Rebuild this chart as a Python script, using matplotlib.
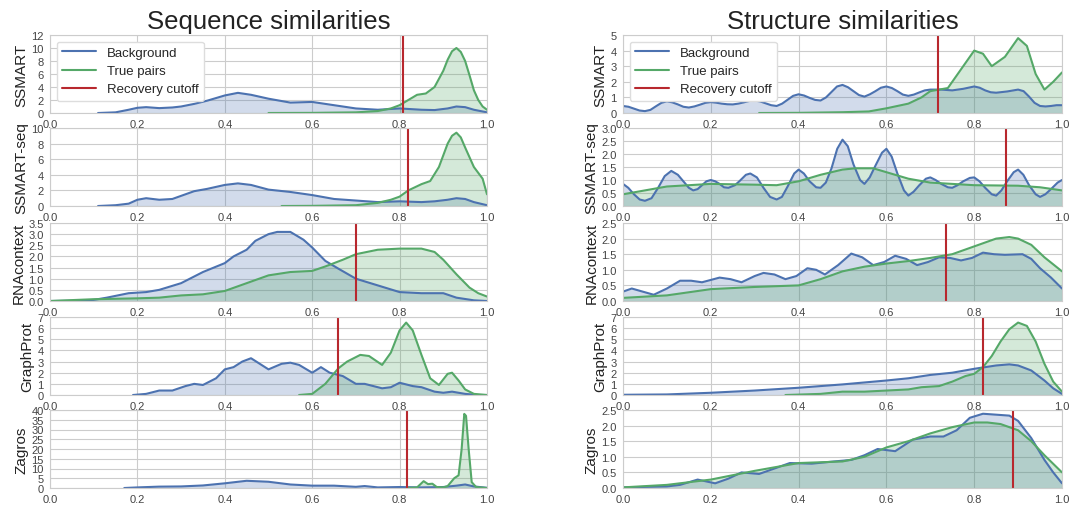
import numpy as np
import matplotlib
matplotlib.use("Agg")
from matplotlib import pyplot as plt
import seaborn as sns

sns.set_style("whitegrid")
plt.rcParams['font.family'] = ['Liberation Sans', 'DejaVu Sans']

BLUE = '#4C72B0'
GREEN = '#55A868'
RED = '#B8282E'

methods = ['SSMART', 'SSMART-seq', 'RNAcontext', 'GraphProt', 'Zagros']

# ---- sequence similarities (left column) ----
seq_bg_x = [
    [0.11, 0.15, 0.18, 0.2, 0.22, 0.25, 0.28, 0.3, 0.33, 0.36, 0.4, 0.43, 0.46, 0.5, 0.55, 0.6, 0.63, 0.67, 0.7, 0.75, 0.8, 0.85, 0.88, 0.91, 0.93, 0.95, 0.97, 1.0],
    [0.11, 0.15, 0.18, 0.2, 0.22, 0.25, 0.28, 0.3, 0.33, 0.36, 0.4, 0.43, 0.46, 0.5, 0.55, 0.6, 0.65, 0.7, 0.75, 0.8, 0.85, 0.88, 0.91, 0.93, 0.95, 0.97, 1.0],
    [0.0, 0.05, 0.1, 0.13, 0.18, 0.22, 0.25, 0.3, 0.35, 0.4, 0.42, 0.45, 0.47, 0.5, 0.52, 0.55, 0.58, 0.6, 0.63, 0.66, 0.7, 0.75, 0.8, 0.85, 0.9, 0.93, 0.97, 1.0],
    [0.19, 0.22, 0.25, 0.28, 0.31, 0.33, 0.35, 0.38, 0.4, 0.42, 0.44, 0.46, 0.48, 0.5, 0.53, 0.55, 0.57, 0.6, 0.62, 0.64, 0.67, 0.7, 0.72, 0.74, 0.76, 0.78, 0.8, 0.83, 0.85, 0.88, 0.9, 0.92, 0.95, 0.98, 1.0],
    [0.17, 0.2, 0.25, 0.3, 0.35, 0.4, 0.45, 0.5, 0.55, 0.6, 0.65, 0.7, 0.72, 0.75, 0.8, 0.85, 0.9, 0.93, 0.95, 0.97, 1.0],
]
seq_bg_y = [
    [0.0, 0.1, 0.5, 0.8, 0.9, 0.75, 0.85, 1.0, 1.4, 1.9, 2.7, 3.1, 2.8, 2.2, 1.6, 1.7, 1.4, 1.0, 0.7, 0.5, 0.7, 0.5, 0.45, 0.7, 1.0, 0.9, 0.5, 0.1],
    [0.0, 0.1, 0.3, 0.8, 1.0, 0.8, 0.9, 1.3, 1.9, 2.2, 2.7, 2.9, 2.7, 2.1, 1.8, 1.4, 0.9, 0.7, 0.5, 0.6, 0.5, 0.6, 0.8, 1.0, 0.9, 0.5, 0.1],
    [0.0, 0.01, 0.05, 0.15, 0.35, 0.4, 0.5, 0.8, 1.3, 1.7, 2.0, 2.3, 2.7, 3.0, 3.1, 3.1, 2.75, 2.4, 1.8, 1.45, 1.0, 0.7, 0.4, 0.35, 0.35, 0.15, 0.03, 0.0],
    [0.0, 0.1, 0.4, 0.4, 0.8, 1.0, 0.9, 1.5, 2.3, 2.5, 3.0, 3.3, 2.8, 2.3, 2.8, 2.9, 2.7, 2.0, 2.5, 2.0, 1.7, 1.0, 1.0, 0.8, 0.6, 0.7, 1.1, 0.8, 0.7, 0.3, 0.2, 0.3, 0.1, 0.0, 0.0],
    [0.0, 0.3, 0.7, 0.8, 1.3, 2.4, 3.7, 3.2, 1.8, 1.2, 1.2, 0.6, 1.0, 0.3, 0.5, 0.3, 0.5, 1.2, 1.8, 0.8, 0.1],
]
seq_tp_x = [
    [0.5, 0.6, 0.7, 0.75, 0.78, 0.8, 0.82, 0.84, 0.86, 0.88, 0.9, 0.91, 0.92, 0.93, 0.94, 0.95, 0.96, 0.97, 0.98, 0.99, 1.0],
    [0.53, 0.6, 0.7, 0.75, 0.78, 0.8, 0.82, 0.85, 0.87, 0.89, 0.91, 0.92, 0.93, 0.94, 0.95, 0.97, 0.99, 1.0],
    [0.0, 0.1, 0.2, 0.25, 0.3, 0.35, 0.4, 0.45, 0.5, 0.55, 0.6, 0.63, 0.67, 0.7, 0.75, 0.8, 0.85, 0.88, 0.9, 0.93, 0.96, 0.98, 1.0],
    [0.57, 0.6, 0.63, 0.66, 0.68, 0.71, 0.73, 0.76, 0.78, 0.8, 0.815, 0.83, 0.85, 0.87, 0.89, 0.91, 0.92, 0.935, 0.95, 0.97, 1.0],
    [0.82, 0.84, 0.855, 0.865, 0.875, 0.885, 0.9, 0.91, 0.925, 0.935, 0.942, 0.948, 0.952, 0.958, 0.965, 0.975, 1.0],
]
seq_tp_y = [
    [0.0, 0.02, 0.1, 0.3, 0.7, 1.2, 2.0, 2.8, 3.0, 4.0, 6.5, 8.2, 9.5, 10.0, 9.4, 8.0, 5.8, 3.5, 2.0, 1.0, 0.5],
    [0.0, 0.02, 0.1, 0.4, 0.8, 1.2, 2.0, 2.8, 3.2, 5.0, 8.0, 9.0, 9.4, 8.8, 7.5, 5.0, 3.5, 1.5],
    [0.0, 0.08, 0.12, 0.15, 0.25, 0.3, 0.45, 0.8, 1.15, 1.3, 1.35, 1.55, 1.85, 2.1, 2.3, 2.35, 2.35, 2.2, 1.85, 1.2, 0.6, 0.35, 0.2],
    [0.0, 0.1, 1.0, 2.4, 3.0, 3.6, 3.5, 2.7, 3.8, 5.8, 6.5, 5.8, 3.6, 1.5, 0.9, 1.9, 2.0, 1.3, 0.5, 0.1, 0.0],
    [0.0, 0.3, 3.5, 2.0, 2.2, 0.5, 0.3, 1.0, 5.0, 6.5, 20.0, 38.0, 37.0, 20.0, 3.0, 0.5, 0.0],
]
seq_cutoff = [0.808, 0.82, 0.70, 0.659, 0.817]
seq_ylim = [12, 10, 3.5, 7, 40]
seq_ystep = [2, 2, 0.5, 1, 5]

# ---- structure similarities (right column) ----
str_bg_x = [
    [0.0, 0.0125, 0.025, 0.0375, 0.05, 0.0625, 0.075, 0.0875, 0.1, 0.1125, 0.125, 0.1375, 0.15, 0.1625, 0.175, 0.1875, 0.2, 0.2125, 0.225, 0.2375, 0.25, 0.2625, 0.275, 0.2875, 0.3, 0.3125, 0.325, 0.3375, 0.35, 0.3625, 0.375, 0.3875, 0.4, 0.4125, 0.425, 0.4375, 0.45, 0.4625, 0.475, 0.4875, 0.5, 0.5125, 0.525, 0.5375, 0.55, 0.5625, 0.575, 0.5875, 0.6, 0.6125, 0.625, 0.6375, 0.65, 0.6625, 0.675, 0.6875, 0.7, 0.725, 0.75, 0.775, 0.8, 0.8125, 0.825, 0.8375, 0.85, 0.875, 0.9, 0.9125, 0.925, 0.9375, 0.95, 0.9625, 0.975, 0.9875, 1.0],
    [0.0, 0.012, 0.025, 0.038, 0.05, 0.065, 0.08, 0.095, 0.11, 0.125, 0.135, 0.15, 0.16, 0.17, 0.18, 0.19, 0.2, 0.21, 0.22, 0.23, 0.24, 0.255, 0.265, 0.28, 0.29, 0.305, 0.32, 0.335, 0.35, 0.362, 0.375, 0.39, 0.4, 0.412, 0.425, 0.44, 0.45, 0.462, 0.475, 0.488, 0.5, 0.512, 0.525, 0.54, 0.55, 0.562, 0.575, 0.59, 0.6, 0.612, 0.625, 0.64, 0.65, 0.662, 0.675, 0.69, 0.7, 0.712, 0.725, 0.74, 0.75, 0.762, 0.775, 0.79, 0.8, 0.812, 0.825, 0.84, 0.85, 0.862, 0.875, 0.89, 0.9, 0.912, 0.925, 0.94, 0.95, 0.962, 0.975, 0.99, 1.0],
    [0.0, 0.02, 0.045, 0.07, 0.1, 0.13, 0.155, 0.18, 0.22, 0.245, 0.27, 0.3, 0.32, 0.345, 0.37, 0.395, 0.42, 0.44, 0.46, 0.49, 0.52, 0.545, 0.57, 0.595, 0.62, 0.645, 0.67, 0.695, 0.72, 0.745, 0.77, 0.795, 0.82, 0.845, 0.87, 0.91, 0.93, 0.95, 0.975, 1.0],
    [0.0, 0.1, 0.2, 0.3, 0.4, 0.5, 0.6, 0.65, 0.7, 0.75, 0.8, 0.85, 0.88, 0.9, 0.93, 0.96, 0.98, 1.0],
    [0.0, 0.1, 0.13, 0.17, 0.21, 0.24, 0.27, 0.31, 0.35, 0.38, 0.43, 0.48, 0.52, 0.55, 0.58, 0.62, 0.66, 0.7, 0.73, 0.76, 0.79, 0.82, 0.85, 0.88, 0.9, 0.93, 0.96, 0.98, 1.0],
]
str_bg_y = [
    [0.45, 0.4, 0.28, 0.16, 0.12, 0.2, 0.43, 0.65, 0.75, 0.68, 0.55, 0.4, 0.35, 0.42, 0.53, 0.65, 0.7, 0.66, 0.6, 0.56, 0.55, 0.6, 0.68, 0.77, 0.8, 0.74, 0.62, 0.5, 0.45, 0.6, 0.85, 1.1, 1.2, 1.12, 0.97, 0.84, 0.8, 1.0, 1.35, 1.7, 1.8, 1.65, 1.4, 1.15, 1.05, 1.2, 1.4, 1.62, 1.7, 1.6, 1.4, 1.18, 1.1, 1.18, 1.32, 1.45, 1.5, 1.5, 1.45, 1.55, 1.7, 1.62, 1.45, 1.33, 1.3, 1.38, 1.5, 1.4, 1.05, 0.65, 0.45, 0.42, 0.45, 0.5, 0.5],
    [0.85, 0.7, 0.45, 0.25, 0.2, 0.3, 0.7, 1.15, 1.35, 1.2, 1.0, 0.7, 0.6, 0.65, 0.8, 0.95, 1.0, 0.95, 0.85, 0.72, 0.7, 0.8, 0.95, 1.2, 1.25, 1.1, 0.7, 0.35, 0.25, 0.35, 0.75, 1.25, 1.4, 1.25, 0.95, 0.72, 0.7, 0.9, 1.45, 2.2, 2.55, 2.3, 1.6, 1.0, 0.85, 1.1, 1.55, 2.05, 2.2, 1.9, 1.25, 0.6, 0.4, 0.55, 0.8, 1.05, 1.1, 1.0, 0.85, 0.72, 0.7, 0.8, 0.95, 1.08, 1.1, 0.95, 0.7, 0.45, 0.4, 0.6, 0.95, 1.3, 1.4, 1.2, 0.8, 0.45, 0.35, 0.45, 0.65, 0.9, 1.0],
    [0.3, 0.4, 0.3, 0.2, 0.4, 0.65, 0.65, 0.6, 0.75, 0.7, 0.6, 0.8, 0.9, 0.85, 0.7, 0.8, 1.05, 1.0, 0.85, 1.15, 1.52, 1.4, 1.15, 1.25, 1.45, 1.35, 1.15, 1.25, 1.4, 1.38, 1.3, 1.38, 1.55, 1.5, 1.48, 1.5, 1.35, 1.05, 0.75, 0.4],
    [0.02, 0.05, 0.2, 0.4, 0.65, 0.95, 1.3, 1.5, 1.8, 2.0, 2.35, 2.65, 2.75, 2.65, 2.2, 1.3, 0.6, 0.1],
    [0.02, 0.05, 0.1, 0.27, 0.15, 0.3, 0.5, 0.45, 0.65, 0.8, 0.78, 0.85, 0.9, 1.05, 1.25, 1.18, 1.55, 1.65, 1.65, 1.85, 2.25, 2.38, 2.35, 2.32, 2.15, 1.6, 0.9, 0.5, 0.15],
]
str_tp_x = [
    [0.31, 0.4, 0.5, 0.56, 0.6, 0.65, 0.68, 0.7, 0.72, 0.74, 0.77, 0.8, 0.82, 0.84, 0.87, 0.9, 0.92, 0.94, 0.96, 0.98, 1.0],
    [0.0, 0.1, 0.2, 0.3, 0.35, 0.4, 0.45, 0.5, 0.53, 0.57, 0.6, 0.65, 0.7, 0.8, 0.9, 0.95, 1.0],
    [0.0, 0.1, 0.15, 0.2, 0.3, 0.4, 0.45, 0.5, 0.55, 0.6, 0.65, 0.7, 0.75, 0.8, 0.85, 0.88, 0.9, 0.93, 0.96, 1.0],
    [0.37, 0.45, 0.5, 0.55, 0.6, 0.65, 0.68, 0.72, 0.75, 0.78, 0.8, 0.82, 0.84, 0.86, 0.88, 0.9, 0.92, 0.94, 0.96, 0.98, 1.0],
    [0.0, 0.1, 0.2, 0.3, 0.4, 0.5, 0.55, 0.6, 0.65, 0.7, 0.75, 0.8, 0.83, 0.86, 0.9, 0.93, 0.96, 1.0],
]
str_tp_y = [
    [0.0, 0.01, 0.05, 0.1, 0.3, 0.6, 1.0, 1.4, 1.5, 1.6, 2.8, 4.0, 3.8, 3.0, 3.6, 4.8, 4.3, 2.5, 1.5, 2.0, 2.6],
    [0.45, 0.75, 0.85, 0.82, 0.8, 0.95, 1.2, 1.4, 1.45, 1.45, 1.3, 1.05, 0.9, 0.8, 0.78, 0.72, 0.6],
    [0.1, 0.18, 0.28, 0.38, 0.45, 0.5, 0.7, 0.95, 1.1, 1.2, 1.28, 1.38, 1.5, 1.75, 2.0, 2.05, 2.0, 1.8, 1.4, 0.95],
    [0.0, 0.1, 0.3, 0.3, 0.4, 0.5, 0.7, 0.8, 1.2, 1.7, 1.9, 2.5, 3.5, 4.8, 5.9, 6.5, 6.2, 4.8, 2.8, 1.2, 0.3],
    [0.02, 0.1, 0.27, 0.55, 0.8, 0.85, 1.0, 1.3, 1.5, 1.75, 1.95, 2.1, 2.1, 2.05, 1.85, 1.5, 1.05, 0.5],
]
str_cutoff = [0.717, 0.872, 0.735, 0.821, 0.888]
str_ylim = [5, 3, 2.5, 7, 2.5]
str_ystep = [1, 0.5, 0.5, 1, 0.5]

fig = plt.figure(figsize=(10.69, 5.06), dpi=100)
W, H = 1069.0, 506.0
tops = [36, 129, 224, 318, 411]
ah = 78

columns = [
    (50, 437, 'Sequence similarities', seq_bg_x, seq_bg_y, seq_tp_x, seq_tp_y, seq_cutoff, seq_ylim, seq_ystep),
    (623, 439, 'Structure similarities', str_bg_x, str_bg_y, str_tp_x, str_tp_y, str_cutoff, str_ylim, str_ystep),
]

for left, width, title, bgx, bgy, tpx, tpy, cut, ylim, ystep in columns:
    for i, m in enumerate(methods):
        ax = fig.add_axes([left / W, 1 - (tops[i] + ah) / H, width / W, ah / H])
        ax.plot(bgx[i], bgy[i], color=BLUE, lw=1.5, label='Background')
        ax.fill_between(bgx[i], bgy[i], color=BLUE, alpha=0.25, lw=0)
        ax.plot(tpx[i], tpy[i], color=GREEN, lw=1.5, label='True pairs')
        ax.fill_between(tpx[i], tpy[i], color=GREEN, alpha=0.25, lw=0)
        ax.axvline(cut[i], color=RED, lw=1.5, label='Recovery cutoff')
        ax.set_xlim(0, 1)
        ax.set_ylim(0, ylim[i])
        ax.set_xticks(np.arange(0, 1.01, 0.2))
        yt = np.arange(0, ylim[i] + 1e-9, ystep[i])
        ax.set_yticks(yt)
        if ystep[i] >= 1:
            ax.set_yticklabels(['%d' % v for v in yt])
        ax.tick_params(labelsize=8, pad=1, colors='#444444')
        ax.set_ylabel(m, fontsize=11, color='#222222', labelpad=2)
        for s in ax.spines.values():
            s.set_color('#cccccc')
        if i == 0:
            leg = ax.legend(loc='upper left', fontsize=9.5, frameon=True, framealpha=1,
                            labelspacing=0.45, handlelength=2.6, borderpad=0.4)
            leg.get_frame().set_edgecolor('#dddddd')
            fig.text((left + width / 2) / W, 1 - 22 / H, title, ha='center', va='center', fontsize=18.5, color='#222222')

fig.savefig('out.png', dpi=100)
